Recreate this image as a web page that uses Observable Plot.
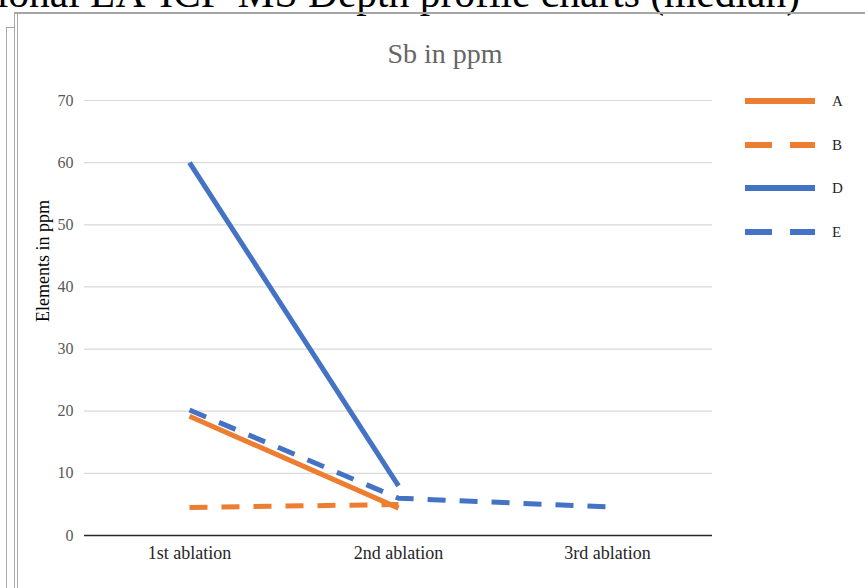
<!DOCTYPE html>
<html>
<head>
<meta charset="utf-8">
<script src="https://cdn.jsdelivr.net/npm/d3@7"></script>
<script src="https://cdn.jsdelivr.net/npm/@observablehq/plot@0.6"></script>
<style>
  html, body { margin: 0; padding: 0; background: #fff; overflow: hidden; }
  body { width: 865px; height: 588px; position: relative; font-family: "Liberation Serif", "DejaVu Serif", serif; }
  #heading { position: absolute; right: 65px; top: -27px; font-size: 41.5px; line-height: 1; color: #000; white-space: nowrap; }
  .bl { position: absolute; background: #a6a6a6; }
  #chart { position: absolute; left: 0; top: 0; }
  #title { position: absolute; left: 0; width: 890px; text-align: center; top: 38px; font-size: 28px; color: #666; }
  #legend { position: absolute; left: 745px; top: 92px; }
  .li { height: 43.5px; display: flex; align-items: flex-start; }
  .li span { font-size: 15px; color: #262626; margin-left: 17px; line-height: 18px; }
</style>
</head>
<body>
<div id="heading">Additional LA-ICP-MS Depth profile charts (median)</div>
<div class="bl" style="left:15px; top:12px; width:850px; height:2px;"></div>
<div class="bl" style="left:14px; top:12px; width:1px; height:576px;"></div>
<div class="bl" style="left:17px; top:12px; width:1px; height:576px;"></div>
<div class="bl" style="left:6px; top:27px; width:9px; height:1px;"></div>
<div class="bl" style="left:6px; top:27px; width:1px; height:561px;"></div>
<div id="chart"></div>
<div id="title">Sb in ppm</div>
<div id="legend"></div>
<script>
const categories = ["1st ablation", "2nd ablation", "3rd ablation"];
const seriesNames = ["A", "B", "D", "E"];
const valuesA = [19.2, 4.4, null];
const valuesB = [4.5, 5.0, null];
const valuesD = [60, 8, null];
const valuesE = [20.2, 6.0, 4.6];
const yTicks = [0, 10, 20, 30, 40, 50, 60, 70];

const seriesColor = {A: "#ED7D31", B: "#ED7D31", D: "#4472C4", E: "#4472C4"};
const seriesDash = {A: null, B: "18,14", D: null, E: "18,14"};

const allValues = {A: valuesA, B: valuesB, D: valuesD, E: valuesE};
const rows = [];
for (const s of seriesNames) {
  allValues[s].forEach((v, i) => { if (v != null) rows.push({series: s, cat: categories[i], value: v}); });
}

const lineMarks = seriesNames.map(s =>
  Plot.line(rows.filter(d => d.series === s), {
    x: "cat", y: "value",
    stroke: seriesColor[s], strokeWidth: 5,
    strokeDasharray: seriesDash[s] || undefined,
    strokeLinecap: "butt", strokeLinejoin: "round"
  })
);

const plot = Plot.plot({
  width: 865,
  height: 588,
  marginLeft: 84,
  marginRight: 153,
  marginTop: 100,
  marginBottom: 53,
  style: {fontFamily: "Liberation Serif, serif", fontSize: "14px", background: "transparent"},
  x: {type: "point", domain: categories, padding: 0.5, label: null},
  y: {domain: [0, 70], ticks: yTicks, label: null},
  marks: [
    Plot.gridY(yTicks.filter(t => t > 0), {stroke: "#d9d9d9", strokeOpacity: 1, strokeWidth: 1.2}),
    Plot.ruleY([0], {stroke: "#262626", strokeWidth: 1.5}),
    Plot.axisY({ticks: yTicks, tickSize: 0, tickPadding: 11, fill: "#595959", fontSize: 16}),
    Plot.axisX({tickSize: 0, tickPadding: 11, fill: "#262626", fontSize: 18}),
    Plot.text(["Elements in ppm"], {frameAnchor: "left", textAnchor: "middle", dx: -41, dy: -57, rotate: -90, fontSize: 18, fill: "#000"}),
    ...lineMarks
  ]
});
document.getElementById("chart").appendChild(plot);

const legend = document.getElementById("legend");
for (const s of seriesNames) {
  const item = document.createElement("div");
  item.className = "li";
  const svg = d3.create("svg").attr("width", 70).attr("height", 18);
  svg.append("line").attr("x1", 0).attr("x2", 70).attr("y1", 9).attr("y2", 9)
    .attr("stroke", seriesColor[s]).attr("stroke-width", 6)
    .attr("stroke-dasharray", seriesDash[s] ? "27,18" : null);
  item.appendChild(svg.node());
  const lab = document.createElement("span");
  lab.textContent = s;
  item.appendChild(lab);
  legend.appendChild(item);
}
</script>
</body>
</html>
